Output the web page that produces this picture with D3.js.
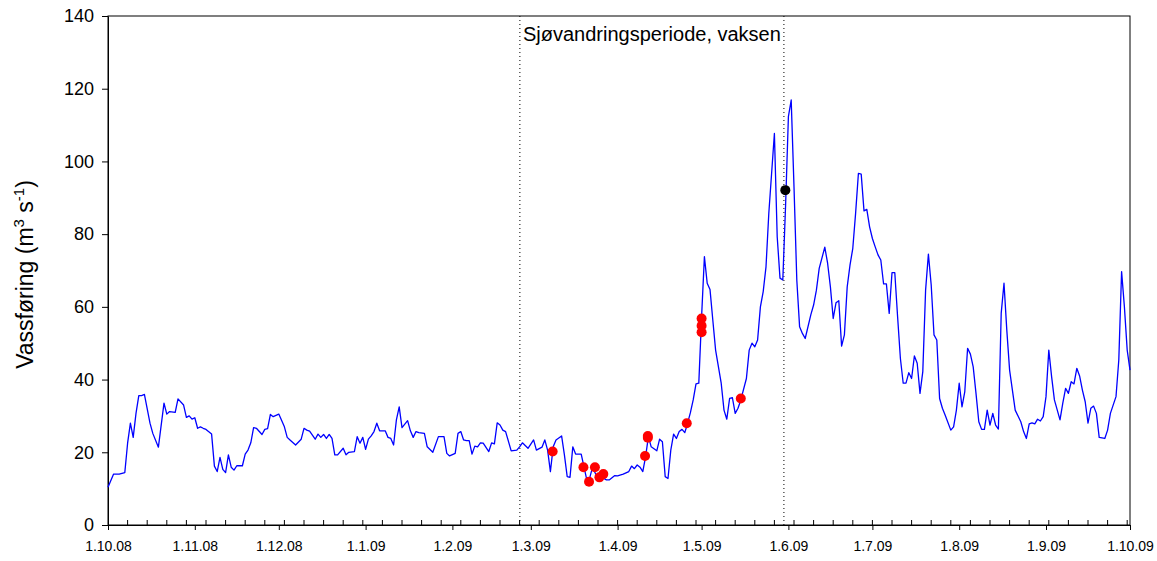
<!DOCTYPE html>
<html>
<head>
<meta charset="utf-8">
<script src="https://cdn.jsdelivr.net/npm/d3@7"></script>
<style>
  body { margin: 0; background: #fff; }
  text { font-family: "Liberation Sans", Arial, sans-serif; }
</style>
</head>
<body>
<svg id="svg1" width="1157" height="561"></svg>
<script>
// daily discharge, [day after 1.10.08, m3/s]
var flowSeries = [[0,10.4],[2,14.0],[4,14.0],[6,14.4],[7,22.5],[8,28.0],[9,24.1],[10,30.7],[11,35.6],[12,35.6],[13,35.9],[15,28.0],[16,25.2],[18,21.4],[20,33.5],[21,30.5],[22,31.2],[24,31.0],[25,34.7],[27,33.0],[28,29.6],[29,30.0],[30,29.1],[31,29.5],[32,26.6],[33,27.0],[34,26.6],[35,26.3],[37,25.0],[38,16.2],[39,14.7],[40,18.6],[41,15.3],[42,14.4],[43,19.3],[44,15.9],[45,15.1],[46,16.3],[48,16.3],[49,19.5],[50,20.6],[51,22.6],[52,26.8],[53,26.6],[55,24.9],[56,26.3],[57,26.5],[58,30.4],[59,29.8],[61,30.5],[63,27.0],[64,24.1],[65,23.4],[67,22.0],[69,23.6],[70,26.6],[71,26.1],[72,25.8],[74,23.6],[75,25.0],[76,24.1],[77,24.9],[78,23.8],[79,24.9],[80,23.8],[81,19.3],[82,19.3],[84,21.1],[85,19.3],[86,20.0],[88,20.2],[89,24.3],[90,22.5],[91,24.1],[92,20.8],[93,23.6],[94,24.5],[95,25.7],[96,28.0],[97,25.9],[99,25.9],[100,24.1],[101,23.8],[102,22.0],[103,28.9],[104,32.5],[105,26.8],[107,28.7],[108,25.9],[109,24.1],[110,25.7],[111,25.4],[113,25.2],[114,21.5],[116,20.0],[118,24.3],[120,24.3],[121,19.7],[122,19.0],[124,19.7],[125,25.2],[126,25.7],[127,23.4],[128,23.2],[129,23.2],[130,19.5],[131,21.7],[132,21.5],[133,22.6],[134,22.5],[136,20.2],[137,22.6],[138,22.3],[139,28.1],[140,27.5],[141,26.1],[142,25.7],[144,20.4],[146,20.6],[147,21.5],[148,22.6],[150,21.1],[152,23.4],[153,20.6],[155,21.4],[156,23.4],[157,20.6],[158,14.7],[159,21.5],[160,23.4],[162,24.5],[163,19.3],[164,13.3],[165,13.1],[166,21.5],[167,19.5],[169,19.5],[170,16.0],[171,12.4],[172,12.8],[173,15.8],[175,12.8],[176,13.3],[178,12.4],[179,12.4],[181,13.6],[182,13.5],[184,14.0],[186,14.7],[187,16.2],[188,15.5],[189,16.5],[190,15.9],[191,14.7],[192,18.8],[193,24.3],[194,21.5],[196,20.4],[197,23.6],[198,22.9],[199,13.3],[200,12.8],[201,20.6],[202,25.0],[203,23.8],[204,25.7],[205,26.3],[206,25.4],[207,28.0],[208,30.9],[209,34.4],[210,38.8],[211,39.0],[212,57.3],[213,73.8],[214,66.5],[215,64.8],[216,56.4],[217,48.1],[219,39.0],[220,31.6],[221,29.1],[222,34.8],[223,35.0],[224,30.7],[225,32.1],[226,34.4],[228,40.3],[229,48.1],[230,50.0],[231,49.0],[232,50.9],[233,60.0],[234,64.2],[235,71.0],[236,85.7],[238,107.7],[239,79.3],[240,67.9],[241,67.4],[242,88.0],[243,112.3],[244,116.9],[245,93.0],[246,67.4],[247,54.5],[248,52.7],[249,51.3],[251,57.8],[252,60.5],[253,64.6],[254,70.6],[256,76.4],[257,72.0],[258,65.5],[259,56.8],[260,61.1],[261,61.7],[262,49.2],[263,52.3],[264,65.5],[265,71.5],[266,76.1],[267,85.7],[268,96.7],[269,96.5],[270,86.4],[271,86.8],[272,82.0],[273,78.8],[274,76.5],[275,74.3],[276,72.9],[277,66.3],[278,66.3],[279,58.2],[280,69.4],[281,69.4],[282,57.3],[283,45.8],[284,39.0],[285,39.0],[286,41.9],[287,40.3],[288,46.5],[289,44.5],[290,36.2],[291,42.2],[292,64.6],[293,74.5],[294,66.0],[295,52.3],[296,50.9],[297,34.8],[298,32.1],[299,30.2],[301,26.1],[302,27.0],[303,31.6],[304,39.0],[305,32.5],[306,36.7],[307,48.6],[308,47.0],[309,43.5],[310,36.2],[311,28.4],[312,26.3],[313,26.3],[314,31.6],[315,27.5],[316,30.7],[317,27.5],[318,26.4],[319,58.2],[320,66.5],[321,53.6],[322,42.6],[323,37.1],[324,31.6],[326,28.4],[327,25.7],[328,23.8],[329,27.8],[330,28.1],[331,27.8],[332,29.1],[333,28.6],[334,29.8],[335,35.3],[336,48.1],[337,40.8],[338,34.4],[340,28.9],[341,33.5],[342,37.6],[343,36.2],[344,39.4],[345,38.8],[346,43.1],[347,41.0],[348,37.1],[349,33.9],[350,28.0],[351,32.1],[352,32.7],[353,30.7],[354,24.1],[356,23.8],[357,26.1],[358,30.7],[360,35.3],[361,45.4],[362,69.7],[363,60.0],[364,48.1],[365,42.6]];

// fish observations
var redDays = [158.8, 169.8, 171.8, 173.9, 175.5, 176.9, 191.8, 192.8, 192.8, 206.7, 212, 212, 212, 226];
var redFlow = [20.2, 15.9, 11.9, 15.9, 13.1, 14.0, 19.0, 24.5, 24.0, 28.0, 56.8, 54.8, 53.0, 34.8];
var blackDays = [241.9];
var blackFlow = [92.1];

var periodDays = [147.1, 241.4];
var periodLabel = "Sjøvandringsperiode, vaksen";

var xTickLabels = ["1.10.08","1.11.08","1.12.08","1.1.09","1.2.09","1.3.09","1.4.09","1.5.09","1.6.09","1.7.09","1.8.09","1.9.09","1.10.09"];
var yTicks = [0, 20, 40, 60, 80, 100, 120, 140];

var svg = d3.select("#svg1"),
    margin = {top: 16, right: 27, bottom: 36, left: 108},
    width = +svg.attr("width") - margin.left - margin.right,
    height = +svg.attr("height") - margin.top - margin.bottom,
    g = svg.append("g").attr("transform", "translate(" + margin.left + "," + margin.top + ")");

var parseTick = d3.utcParse("%d.%m.%y");
var start = parseTick(xTickLabels[0]).getTime();
function dayDate(d) { return new Date(start + d * 864e5); }

var x = d3.scaleUtc()
    .domain([parseTick(xTickLabels[0]), parseTick(xTickLabels[xTickLabels.length - 1])])
    .range([0, width]);
var y = d3.scaleLinear().domain([0, 140]).range([height, 0]);

// frame
g.append("rect")
    .attr("width", width)
    .attr("height", height)
    .attr("fill", "none")
    .attr("stroke", "#000")
    .attr("stroke-width", 1);

// weekly minor ticks
var weeks = d3.range(7, 365, 7);
g.selectAll(".minor")
    .data(weeks)
  .enter().append("line")
    .attr("class", "minor")
    .attr("x1", function(d) { return x(dayDate(d)); })
    .attr("x2", function(d) { return x(dayDate(d)); })
    .attr("y1", height)
    .attr("y2", height - 5)
    .attr("stroke", "#000");

var xAxis = g.append("g")
    .attr("transform", "translate(0," + height + ")")
    .call(d3.axisBottom(x)
        .tickValues(xTickLabels.map(parseTick))
        .tickFormat(function(d, i) { return xTickLabels[i]; })
        .tickSize(5).tickSizeOuter(0).tickPadding(11));
xAxis.selectAll("text").style("font-size", "14px").attr("fill", "#000");

var yAxis = g.append("g")
    .call(d3.axisLeft(y).tickValues(yTicks).tickSize(6).tickSizeOuter(0).tickPadding(8));
yAxis.selectAll("text").style("font-size", "18px").attr("fill", "#000");

// migration period
g.selectAll(".period")
    .data(periodDays)
  .enter().append("line")
    .attr("class", "period")
    .attr("x1", function(d) { return x(dayDate(d)); })
    .attr("x2", function(d) { return x(dayDate(d)); })
    .attr("y1", 0)
    .attr("y2", height)
    .attr("stroke", "#000")
    .attr("stroke-dasharray", "1,3");

g.append("text")
    .attr("x", (x(dayDate(periodDays[0])) + x(dayDate(periodDays[1]))) / 2)
    .attr("y", 25)
    .attr("text-anchor", "middle")
    .style("font-size", "20px")
    .text(periodLabel);

var line = d3.line()
    .x(function(d) { return x(dayDate(d[0])); })
    .y(function(d) { return y(d[1]); });

g.append("path")
    .datum(flowSeries)
    .attr("fill", "none")
    .attr("stroke", "#0000ff")
    .attr("stroke-width", 1.3)
    .attr("stroke-linejoin", "round")
    .attr("d", line);

g.selectAll(".red")
    .data(redDays)
  .enter().append("circle")
    .attr("class", "red")
    .attr("cx", function(d) { return x(dayDate(d)); })
    .attr("cy", function(d, i) { return y(redFlow[i]); })
    .attr("r", 5)
    .attr("fill", "#ff0000");

g.selectAll(".black")
    .data(blackDays)
  .enter().append("circle")
    .attr("class", "black")
    .attr("cx", function(d) { return x(dayDate(d)); })
    .attr("cy", function(d, i) { return y(blackFlow[i]); })
    .attr("r", 5)
    .attr("fill", "#000");

// y label with superscripts
var ylab = svg.append("text")
    .attr("transform", "translate(33," + (margin.top + height / 2 + 4) + ") rotate(-90)")
    .attr("text-anchor", "middle")
    .style("font-size", "23px");
ylab.append("tspan").text("Vassføring (m");
ylab.append("tspan").attr("dy", -9).style("font-size", "15px").text("3");
ylab.append("tspan").attr("dy", 9).text(" s");
ylab.append("tspan").attr("dy", -9).style("font-size", "15px").text("-1");
ylab.append("tspan").attr("dy", 9).text(")");
</script>
</body>
</html>
